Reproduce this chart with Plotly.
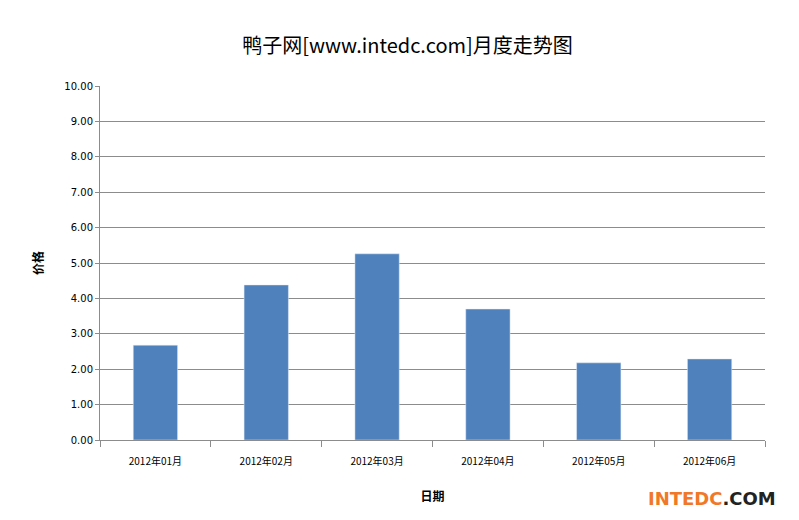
import plotly.graph_objects as go

categories = ["2012年01月", "2012年02月", "2012年03月", "2012年04月", "2012年05月", "2012年06月"]
prices = [2.68, 4.38, 5.26, 3.70, 2.18, 2.29]
y_ticks = [0, 1, 2, 3, 4, 5, 6, 7, 8, 9, 10]

fig = go.Figure(go.Bar(x=categories, y=prices, marker_color="#4F81BD", width=0.4))

fig.update_layout(
    width=799, height=520,
    paper_bgcolor="white", plot_bgcolor="white",
    margin=dict(l=92, r=42, t=78, b=88, autoexpand=False),
    title=dict(text="鸭子网[www.intedc.com]月度走势图", x=0.5, xanchor="center", y=0.94,
               font=dict(family="Noto Sans CJK SC", size=20, color="black")),
    font=dict(family="Noto Sans CJK SC", size=11, color="black"),
    showlegend=False,
    bargap=0.6,
)
fig.update_yaxes(range=[0, 10], tickvals=y_ticks, tickformat=".2f",
                 showgrid=True, gridcolor="#8c8c8c", gridwidth=1,
                 showline=True, linecolor="#8c8c8c", ticks="outside", tickcolor="#8c8c8c", ticklen=4,
                 tickfont=dict(family="DejaVu Sans", size=10),
                 title=dict(text="<b>价格</b>", font=dict(size=12), standoff=18))
fig.update_xaxes(showline=True, linecolor="#8c8c8c", ticks="outside", tickcolor="#8c8c8c",
                 ticklen=6, tickson="boundaries", ticklabelstandoff=12,
                 tickfont=dict(size=10),
                 title=dict(text="<b>日期</b>", font=dict(size=12), standoff=25))
fig.add_annotation(text="<b><span style='color:#F07828'>INTEDC</span>.COM</b>",
                   xref="paper", yref="paper", x=1.02, y=-0.2, xanchor="right", yanchor="bottom",
                   showarrow=False, font=dict(family="DejaVu Sans", size=18, color="#222222"))
fig.write_html("out.html")
